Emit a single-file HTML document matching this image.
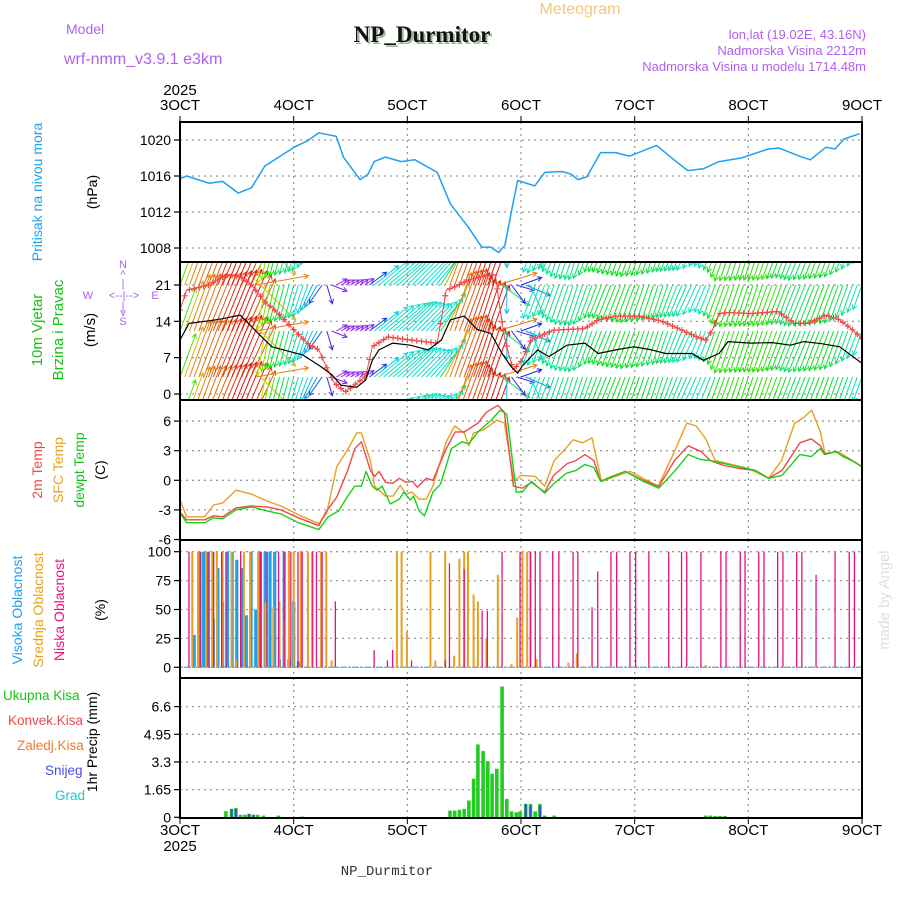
<!DOCTYPE html>
<html><head><meta charset="utf-8"><style>
html,body{margin:0;padding:0;background:#fff;}
svg{display:block;font-family:"Liberation Sans",sans-serif;}
</style></head><body>
<svg id="c" width="900" height="900" viewBox="0 0 900 900">
<g id="hdr">
<text x="580" y="14" font-size="16" fill="#f5c878" text-anchor="middle">Meteogram</text>
<text x="424" y="44" font-size="23" font-weight="bold" font-family="Liberation Serif,serif" fill="#9bb89b" text-anchor="middle">NP_Durmitor</text>
<text x="422" y="42" font-size="23" font-weight="bold" font-family="Liberation Serif,serif" fill="#111" text-anchor="middle">NP_Durmitor</text>
<text x="66" y="34" font-size="14" fill="#b060f0">Model</text>
<text x="64" y="64" font-size="16" fill="#b060f0">wrf-nmm_v3.9.1 e3km</text>
<text x="866" y="39" font-size="13" fill="#b060f0" text-anchor="end">lon,lat (19.02E, 43.16N)</text>
<text x="866" y="55" font-size="13" fill="#b060f0" text-anchor="end">Nadmorska Visina 2212m</text>
<text x="866" y="71" font-size="13" fill="#b060f0" text-anchor="end">Nadmorska Visina u modelu 1714.48m</text>
<text x="885" y="600" font-size="15" fill="#d8e4d8" transform="rotate(-90 885 600)" text-anchor="middle" dominant-baseline="middle">made by Angel</text>
<text x="387" y="875" font-size="14" font-family="Liberation Mono,monospace" fill="#333" text-anchor="middle">NP_Durmitor</text>
</g>
<g id="grid"></g>
<g id="marks"></g>
<g id="frames"></g>
<g id="labels"></g>
</svg>
<script>
// ---- data ----
const presHours=[0,1.4,6.1,9,12.3,15.1,17.9,24.1,26.9,29.3,33,34.5,38,39.7,41,43.4,46.7,49.6,54.3,57.1,60.9,63.7,65.6,67.3,68.6,70.3,71.3,74.9,77,80.7,82.6,84,85.9,88.8,92,94.9,100.6,104.3,107.2,110.5,113.8,118.5,124.2,126.5,130.8,133.1,136.4,138.3,140.2,143.5];
const presVals=[1015.7,1016,1015.2,1015.4,1014.1,1014.7,1017.1,1019.2,1019.9,1020.8,1020.4,1018.1,1015.6,1016.2,1017.6,1018.1,1017.6,1017.8,1016.4,1012.9,1010.3,1008.1,1008.1,1007.5,1008.3,1012.9,1015.5,1014.9,1016.4,1016.5,1016.2,1015.6,1015.9,1018.6,1018.6,1018.2,1019.4,1017.8,1016.6,1016.8,1017.6,1018,1019,1019.1,1018.2,1017.8,1019.2,1019,1020.1,1020.7];
const spdHours=[0,1.9,6.1,9,12.7,16.5,19.4,23.1,26,29.7,32.1,34,37.3,39.2,40.6,42,44.9,48.6,52.4,55.2,57.1,60,62.8,65.6,68,69.9,71.3,72.2,75.5,77.9,81.7,85.5,88.3,92,95.8,99.6,102.5,108.1,110.5,113.8,115.7,120.4,125.1,128.9,131.7,135.5,139.3,142.1,144];
const spdVals=[10.4,13.6,14.1,14.5,15.2,11.7,9.1,8.2,7.5,5.3,3.7,1.7,1.3,2.7,6.5,8.5,9.8,9.4,8.5,10.4,14.3,15,12.4,11.7,7.8,5.3,4,5.3,8.5,7.2,9.4,9.8,7.8,8.5,9.1,8.5,7.8,7.8,6.5,7.8,10.1,9.8,9.9,9.4,10.1,9.7,9.1,7.2,5.9];
const gustHours=[0,1.4,6.1,9.9,12.7,15.1,17.9,20.8,24.1,26.9,29.3,30.7,32.6,34.9,37.3,39.2,40.6,43.9,48.6,54.3,56.2,58.1,61,63.7,66.6,67.5,68.5,70.3,72.2,74.1,78.8,85.5,88.3,92,96.8,101.5,105.3,109.1,111,112.4,113.8,115.7,120.4,126.2,129.8,132.7,136.4,139.3,142.1,144];
const gustVals=[16.2,20,21,23,22.6,21,17.8,15.5,12.3,9.8,8.5,5.6,2.1,0.4,2.1,3.4,9.1,11,10.4,9.8,20,20.7,22,22.6,23,16.8,11,4.6,6.5,10.4,12.3,12.6,14.3,15,15,14.1,12.6,11,10.4,12.3,15.5,15.7,15.5,15.9,13.6,13.6,15.2,14.3,12.3,10.7];
const dirHours=[0,3,6,9,12,15,18,21,24,27,30,33,36,39,42,45,48,51,54,57,60,63,66,69,72,75,78,84,90,96,102,108,114,120,126,132,138,144];
const dirVals=[20,20,22,22,22,25,190,195,195,200,215,60,60,55,50,50,45,45,40,20,20,18,20,180,70,200,200,198,202,200,198,205,200,198,200,202,200,200];
const t2Hours=[0,1.4,5.2,7.1,9,11.8,15.1,18.4,21.3,25,29.3,30.7,33.1,35.4,36.9,38.3,40.2,41.1,42,43.4,44.9,46.3,47.7,49.1,50.1,52,53.4,56.2,58.1,60,61,62.9,64.7,67.1,68.5,70.4,72.3,74.2,77,78.9,81.8,83.6,85.5,87.4,88.8,91.2,94,97.8,101.1,104.4,107.3,110.1,112,114.8,118.1,121.5,124.3,127.1,130.9,133.3,135.2,136.1,138.5,139.4,142.2,143.9];
const t2Vals=[-3.2,-4,-4,-3.6,-3.7,-2.8,-2.6,-2.7,-3,-3.8,-4.6,-3.3,-1.7,1,3.2,3.9,1,0.4,0.9,-0.2,-0.3,0.2,-0.2,-0.1,-0.7,0.2,0,3.2,4.9,4.9,5.2,5.8,6.9,7.6,6.9,-0.6,-0.8,-0.2,-1.2,0.5,1.7,2,2.6,2,-0.1,0.4,0.9,0,-0.6,2,3.5,2.9,2,1.5,1.2,1,0.2,1,3.8,4.2,3.5,2.7,2.9,2.6,1.9,1.4];
const sfcHours=[0,1.4,5.2,7.1,9,11.8,15.1,18.4,21.3,25,29.3,31,33.1,35.4,37.3,38.3,40.2,41.1,42,43.4,45,46.5,47.7,49,50.5,52,53.4,56.2,58,60,61,62,64,67,68.5,70.5,72,75,77,79,81,83,85,87,89,95,101,104,107,109,111,113,120,124.3,127,129.8,131.5,133.4,135.2,136.2,139,142,144];
const sfcVals=[-2,-3.7,-3.7,-2.5,-2.3,-1,-1.4,-2.1,-2.6,-3.5,-4.4,-3.3,1.4,3.1,4.8,4.8,2,-0.6,-1,-1.6,-1.6,-0.5,-1.4,-1.2,-1.9,-1.9,-0.6,3.9,5.5,4.8,3.5,4.8,5.1,6.1,5.8,-0.1,0.5,0.4,-0.6,2,3,4.1,3.8,4.3,-0.1,0.9,-0.6,2.5,5.8,5.5,4.2,2,1.2,0.2,2,5.8,6.3,7.1,4.9,2.7,2.9,2,1.4];
const tdHours=[0,1.4,5.2,7.1,9,11.8,15.1,18.4,21.3,25,29.3,31.3,33.5,35.4,36.9,38.3,39.3,40.6,41.6,42.7,44.4,46.3,47.3,48.6,49.3,50.5,51.6,53.4,55,57.3,59.5,61,62.9,65.7,67.6,69,71,72.3,74.2,77,79,81.5,83.6,85.5,87.4,88.8,91,94,97.8,101.1,104.4,107.3,110,112,121.5,124.3,127.1,130.9,133.3,135.2,136.1,138.5,140,142.2,144];
const tdVals=[-3.3,-4.3,-4.3,-3.8,-3.9,-3,-2.7,-3.1,-3.4,-4.3,-5,-3.7,-3.1,-1.6,-0.6,-0.6,0.9,-0.6,-1,-0.6,-2.4,-1.9,-1.2,-2,-1.6,-3.1,-3.6,-1.2,-0.4,3.2,3.9,3.7,4.9,6.1,7.1,6.7,-1.2,-1.2,-0.1,-1.3,-0.3,0.7,1,1.6,1.3,-0.1,0.3,0.9,-0.1,-0.8,0.9,2.6,2.1,2,1,0.2,0.5,2.6,2.4,3.2,2.6,2.9,2.4,1.9,1.4];
const highHours=[3,4,5,6,7,8,9,10,11,12,13,14,15,16,17,18,19,20,21,22,23,24,25];
const highVals=[28,100,100,100,42,86,57,100,100,93,86,45,100,50,100,100,100,100,7,100,7,57,5];
const midHours=[2.6,3.8,5.6,6.8,7.8,9,10.9,11.8,13.5,14.8,16.5,18,19.7,21,22,23,24,25.5,27,28,29.8,30.9,32,45.8,46.8,47.9,52.9,53.9,56,57.9,59,60,60.8,62,62.9,64.7,67.1,70,71.2,72.3,73.3,74,75.3,82,83.8,111];
const midVals=[100,100,100,100,100,100,100,6,100,100,100,56,52,57,40,100,100,100,100,100,100,100,6,100,100,31,100,6,100,10,94,100,100,63,57,25,80,3,43,100,100,100,7,4,12,2];
const lowHours=[1.9,4.4,5.9,7.1,8.8,9.7,12.8,17,18.4,20.8,22,23.4,24.9,25.8,27.9,28.8,30,32.8,41,43.8,44.9,48.9,56,56.9,60,63.8,64.9,68,71.8,74,75,76,78.7,80,83,84,87,88.2,91,92.2,95,96.2,99,103.2,105.9,107,110,114.2,115.3,118.3,119.3,122.2,123.3,126.2,127.3,130.2,131.3,134.3,138.3,141.3,142.4];
const lowVals=[100,100,100,100,100,100,100,100,100,100,100,100,100,100,100,100,100,57,15,6,15,6,6,90,85,49,49,100,100,100,100,100,100,100,100,100,52,83,100,100,100,100,100,100,100,100,100,100,100,100,100,100,100,100,100,100,100,80,100,100,100];
const rainHours=[9.7,10.9,11.8,12.8,13.7,14.6,15.5,16.4,17.6,20.8,25.8,57,58,59,60,61,62,62.9,64,65,65.9,66.9,68,69,70,71,71.8,73,74,75,76,77,79,111,112,113,114,115];
const rainVals=[0.37,0.5,0.55,0.15,0.15,0.2,0.15,0.15,0.1,0.1,0.05,0.4,0.4,0.45,0.5,1.0,2.3,4.35,3.95,3.35,2.6,2.9,7.8,1.1,0.35,0.3,0.35,0.8,0.8,0.35,0.8,0.1,0.1,0.1,0.1,0.08,0.08,0.08];
const snowHours=[10.9,11.8,14.6,15.5,73,74,76];
const snowVals=[0.5,0.5,0.2,0.15,0.8,0.7,0.7];
const dayLabels=["3OCT","4OCT","5OCT","6OCT","7OCT","8OCT","9OCT"];
const presTicks=[1008,1012,1016,1020];
const windTicks=[0,7,14,21];
const tempTicks=[-6,-3,0,3,6];
const cloudTicks=[0,25,50,75,100];
const precipTicks=[0,1.65,3.3,4.95,6.6];

// ---- axes ----
const X0=180,X1=862,NH=144;
const xs=h=>X0+(X1-X0)*h/NH;
const P={pres:[122,262],wind:[262,400],temp:[400,540],cloud:[540,678],prec:[678,818]};
const yP=v=>248-(v-1008)*9;
const yW=v=>394-v*5.19;
const yT=v=>480.3-v*9.87;
const yC=v=>667.3-v*1.156;
const yR=v=>817.3-v*16.77;
const NS="http://www.w3.org/2000/svg";
function mk(tag,attrs,parent){const e=document.createElementNS(NS,tag);for(const k in attrs)e.setAttribute(k,attrs[k]);parent.appendChild(e);return e;}
const grid=document.getElementById('grid'),marks=document.getElementById('marks'),frames=document.getElementById('frames'),labels=document.getElementById('labels');
function interp(hs,vs,h){if(h<=hs[0])return vs[0];for(let i=1;i<hs.length;i++){if(h<=hs[i]){const t=(h-hs[i-1])/(hs[i]-hs[i-1]);return vs[i-1]+t*(vs[i]-vs[i-1]);}}return vs[vs.length-1];}

const defs=mk('defs',{},document.getElementById('c'));
for(const k in P){const cp=mk('clipPath',{id:'cp-'+k},defs);mk('rect',{x:X0,y:P[k][0],width:X1-X0,height:P[k][1]-P[k][0]},cp);}

function panelGrid(key,ticks,yf,fmt){
  const [t,b]=P[key];
  for(let d=1;d<6;d++){const l=mk('line',{x1:xs(d*24),x2:xs(d*24),y1:t,y2:b,stroke:'#999','stroke-width':1.3,'stroke-dasharray':'2,4'},grid);
    
    }
  ticks.forEach(v=>{const y=yf(v);
    if(y>t+2&&y<b-2){const g=mk('line',{x1:X0,x2:X1,y1:y,y2:y,stroke:'#999','stroke-width':1.3,'stroke-dasharray':'2,4'},grid);
      
      }
    const tk=mk('line',{x1:X0-6,x2:X0,y1:y,y2:y,stroke:'#000','stroke-width':1.2},frames);
    
    
    const tx=mk('text',{x:X0-9,y:y+5,'font-size':14,'text-anchor':'end',fill:'#000'},labels);tx.textContent=fmt(v);
    
    });
  const r=mk('rect',{x:X0,y:t,width:X1-X0,height:b-t,fill:'none',stroke:'#000','stroke-width':2},frames);
  
  
}
panelGrid('pres',presTicks,yP,v=>v);
panelGrid('wind',windTicks,yW,v=>v);
panelGrid('temp',tempTicks,yT,v=>v);
panelGrid('cloud',cloudTicks,yC,v=>v);
panelGrid('prec',precipTicks,yR,v=>v);

dayLabels.forEach((d,i)=>{
  [[110,'top'],[835,'bottom']].forEach(([y,w])=>{const t=mk('text',{x:xs(i*24),y:y,'font-size':15,'text-anchor':'middle',fill:'#000'},labels);t.textContent=d;
    
    
    mk('line',{x1:xs(i*24),x2:xs(i*24),y1:w=='top'?116:818,y2:w=='top'?122:824,stroke:'#000'},frames);});
});
[[95],[851]].forEach(([y])=>{const t=mk('text',{x:X0,y:y,'font-size':15,'text-anchor':'middle',fill:'#000'},labels);t.textContent='2025';
  
  });

function line(hs,vs,yf,color,w,name,clip){
  const d=hs.map((h,i)=>(i?'L':'M')+xs(h).toFixed(1)+','+yf(vs[i]).toFixed(1)).join('');
  const p=mk('path',{d:d,fill:'none',stroke:color,'stroke-width':w,'stroke-linejoin':'round','clip-path':'url(#cp-'+clip+')'},marks);
  
  
}
line(presHours,presVals,yP,'#1ea0f0',1.5,'pressure-line','pres');

// wind arrows
function gustColor(g){const stops=[[0,275],[4,265],[7,220],[10,178],[13,150],[15,125],[17,85],[19,45],[21,25],[23,0],[30,0]];
  let h=0;for(let i=1;i<stops.length;i++){if(g<=stops[i][0]){const t=(g-stops[i-1][0])/(stops[i][0]-stops[i-1][0]);h=stops[i-1][1]+t*(stops[i][1]-stops[i-1][1]);break;}}
  return 'hsl('+h.toFixed(0)+',90%,'+(h>240?55:46)+'%)';}
const wg=mk('g',{'clip-path':'url(#cp-wind)'},marks);


for(let h=0;h<=NH;h++){
  const g=interp(gustHours,gustVals,h),s=interp(spdHours,spdVals,h),dir=interp(dirHours,dirVals,h)*Math.PI/180;
  const L=Math.max(10,s*4.4),dx=Math.sin(dir)*L,dy=-Math.cos(dir)*L;
  const col=gustColor(g);
  for(let k=0;k<5;k++){
    const x=xs(h),y=239+46*k,x2=x+dx,y2=y+dy;
    const a=Math.atan2(dy,dx),hl=5;
    const d='M'+x.toFixed(1)+','+y+'L'+x2.toFixed(1)+','+y2.toFixed(1)+
      'M'+(x2-hl*Math.cos(a-0.5)).toFixed(1)+','+(y2-hl*Math.sin(a-0.5)).toFixed(1)+'L'+x2.toFixed(1)+','+y2.toFixed(1)+'L'+(x2-hl*Math.cos(a+0.5)).toFixed(1)+','+(y2-hl*Math.sin(a+0.5)).toFixed(1);
    const p=mk('path',{d:d,stroke:col,'stroke-width':1,fill:'none'},wg);
    
    
  }
}
line(gustHours,gustVals,yW,'#f04848',1,'gust-line','wind');
for(let h=0;h<=NH;h++){const v=interp(gustHours,gustVals,h),x=xs(h),y=yW(v);
  const m=mk('path',{d:'M'+(x-3)+','+y+'h6M'+x+','+(y-3)+'v6',stroke:'#f04848','stroke-width':1.2,'clip-path':'url(#cp-wind)'},marks);
  
  }
line(spdHours,spdVals,yW,'#000',1.2,'wind-speed-line','wind');

line(sfcHours,sfcVals,yT,'#e8a020',1.4,'sfc-temp-line','temp');
line(t2Hours,t2Vals,yT,'#f04848',1.4,'temp-2m-line','temp');
line(tdHours,tdVals,yT,'#18d018',1.4,'dewpoint-line','temp');

const base=mk('line',{x1:X0,x2:X1,y1:yC(0),y2:yC(0),stroke:'#7ab0e0','stroke-width':1.5,'stroke-dasharray':'3,1'},marks);


function bars(hs,vs,yf,y0,color,w,name){hs.forEach((h,i)=>{const y=yf(vs[i]);
  const r=mk('rect',{x:(xs(h)-w/2).toFixed(1),y:y.toFixed(1),width:w,height:Math.max(0,y0-y).toFixed(1),fill:color},marks);
  
  });}
bars(highHours,highVals,yC,yC(0),'#1ea0f0',3.2,'high-cloud-bar');
bars(midHours,midVals,yC,yC(0),'#e8a020',2,'mid-cloud-bar');
bars(lowHours,lowVals,yC,yC(0),'#e8107a',1.3,'low-cloud-bar');

bars(rainHours,rainVals,yR,yR(0),'#22cc22',3.6,'rain-bar');
bars(snowHours,snowVals,yR,yR(0),'#3a4ae8',2,'snow-bar');

function vlab(x,y,txt,col,size,name){const t=mk('text',{x:x,y:y,'font-size':size,fill:col,'text-anchor':'middle',transform:'rotate(-90 '+x+' '+y+')'},labels);t.textContent=txt;
  
  }
function hlab(x,y,txt,col,name){const t=mk('text',{x:x,y:y,'font-size':13.5,fill:col},labels);t.textContent=txt;
  
  }
vlab(42,192,'Pritisak na nivou mora','#1ea0f0',14,'pressure-axis-title');
vlab(97,192,'(hPa)','#000',14,'pressure-unit');
vlab(42,330,'10m Vjetar','#18c018',15,'wind-axis-title');
vlab(63,330,'Brzina i Pravac','#18c018',15,'wind-axis-subtitle');
vlab(95,330,'(m/s)','#000',15,'wind-unit');
vlab(42,470,'2m Temp','#f04848',14,'temp2m-axis-title');
vlab(63,470,'SFC Temp','#e8a020',14,'sfc-axis-title');
vlab(84,470,'dewpt Temp','#18c018',14,'dewpt-axis-title');
vlab(105,470,'(C)','#000',14,'temp-unit');
vlab(22,610,'Visoka Oblacnost','#1ea0f0',14,'high-cloud-title');
vlab(43,610,'Srednja Oblacnost','#e8a020',14,'mid-cloud-title');
vlab(64,610,'Niska Oblacnost','#e8107a',14,'low-cloud-title');
vlab(105,610,'(%)','#000',14,'cloud-unit');
vlab(97,742,'1hr Precip (mm)','#000',14,'precip-axis-title');
hlab(3,700,'Ukupna Kisa','#18c018','legend-total-rain');
hlab(8,725,'Konvek.Kisa','#f04848','legend-convective-rain');
hlab(17,750,'Zaledj.Kisa','#f07830','legend-freezing-rain');
hlab(45,775,'Snijeg','#4a4af0','legend-snow');
hlab(55,800,'Grad','#20c8c8','legend-hail');
const cp=mk('g',{fill:'#b060f0','font-size':11,'text-anchor':'middle'},labels);


[['N',123,268],['^',123,278],['|',123,287],['W',88,299],['<--|-->',124,299],['E',155,299],['|',123,310],['v',123,316],['S',123,325]].forEach(([s,x,y])=>{const t=mk('text',{x:x,y:y},cp);t.textContent=s;});
</script>
</body></html>
